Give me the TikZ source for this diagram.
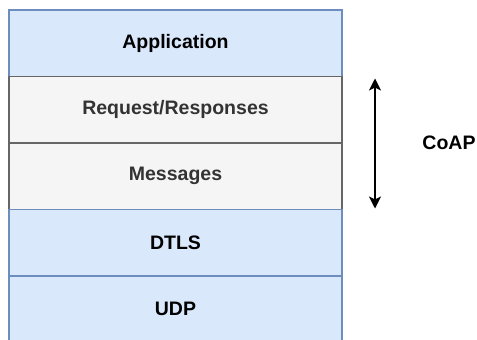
\documentclass[tikz,border=0pt]{standalone}
\usepackage{fontspec}
\setmainfont{Liberation Sans}
\usetikzlibrary{
positioning,
arrows.meta,
}
\definecolor{layerfill}{HTML}{DAE8FC}
\definecolor{layerline}{HTML}{6C8EBF}
\definecolor{coapfill}{HTML}{F5F5F5}
\definecolor{coapline}{HTML}{666666}
\definecolor{coaptext}{HTML}{333333}
\tikzset{
node distance=0pt,
outer sep=0pt,
every node/.style={align=center, font=\fontsize{19.5}{23}\selectfont\bfseries},
layer/.style={rectangle, draw=layerline, fill=layerfill, line width=1.2pt,
  minimum width=333pt, minimum height=66.5pt, inner sep=0pt},
coaplayer/.style={layer, draw=coapline, fill=coapfill, text=coaptext},
>={Stealth[length=12pt, width=12pt, inset=3pt]},
}

\begin{document}
\begin{tikzpicture}
\useasboundingbox (0,0) rectangle (477pt,-340pt);
\clip (0,0) rectangle (477pt,-340pt);
\node (app) [layer, anchor=north west] at (9pt,-10pt) {Application};
\node (req) [coaplayer, below=of app] {Request/Responses};
\node (msg) [coaplayer, below=of req] {Messages};
\node (dtls) [layer, below=of msg] {DTLS};
\node (udp) [layer, below=of dtls] {UDP};
% span of the CoAP layers
\coordinate (coaptop) at ([xshift=33pt, yshift=-2pt]req.north east);
\coordinate (coapbot) at ([xshift=33pt, yshift=1pt]msg.south east);
\draw [<->, line width=1.3pt] (coaptop) -- (coapbot);
\node (coap) [xshift=107pt] at (req.south east) {CoAP};
\end{tikzpicture}
\end{document}
